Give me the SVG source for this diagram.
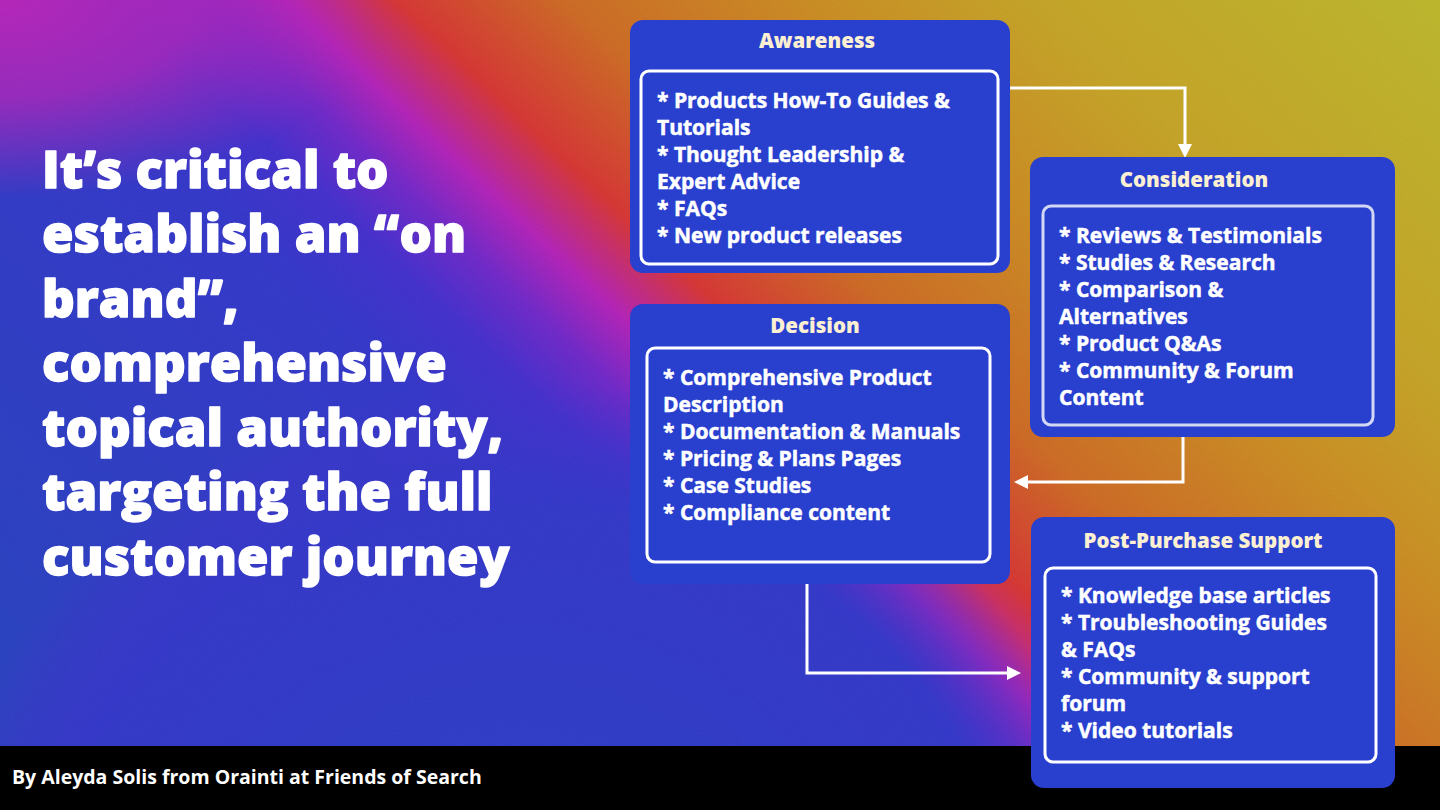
<svg xmlns="http://www.w3.org/2000/svg" width="1440" height="810" viewBox="0 0 1440 810">
  <defs>
    <linearGradient id="bg" gradientUnits="userSpaceOnUse" x1="-414" y1="438" x2="690" y2="-730">
      <stop offset="0" stop-color="#1c3cbc"/>
      <stop offset="0.375" stop-color="#2a2ec8"/>
      <stop offset="0.425" stop-color="#3a26cc"/>
      <stop offset="0.4625" stop-color="#6a1ec8"/>
      <stop offset="0.4975" stop-color="#b018b6"/>
      <stop offset="0.544" stop-color="#d62c2a"/>
      <stop offset="0.616" stop-color="#cc641a"/>
      <stop offset="0.719" stop-color="#ca8818"/>
      <stop offset="0.8125" stop-color="#c4a01c"/>
      <stop offset="1" stop-color="#bab622"/>
    </linearGradient>
    <radialGradient id="blueover" gradientUnits="userSpaceOnUse" cx="520" cy="1000" r="620">
      <stop offset="0" stop-color="#2038c4" stop-opacity="1"/>
      <stop offset="0.82" stop-color="#2a2ec8" stop-opacity="1"/>
      <stop offset="1" stop-color="#3a26cc" stop-opacity="0"/>
    </radialGradient>
    <radialGradient id="corner" gradientUnits="userSpaceOnUse" cx="0" cy="0" r="380" gradientTransform="scale(1,0.52)">
      <stop offset="0" stop-color="#b41ab8" stop-opacity="1"/>
      <stop offset="0.5" stop-color="#b41ab8" stop-opacity="0.75"/>
      <stop offset="1" stop-color="#b41ab8" stop-opacity="0"/>
    </radialGradient>
    <filter id="grain" x="0" y="0" width="100%" height="100%">
      <feTurbulence type="fractalNoise" baseFrequency="0.85" numOctaves="2" seed="4" result="n"/>
      <feColorMatrix in="n" type="matrix" values="0.33 0.33 0.33 0 0  0.33 0.33 0.33 0 0  0.33 0.33 0.33 0 0  0 0 0 0 0.08"/>
    </filter>
    <marker id="arrow" markerUnits="userSpaceOnUse" markerWidth="14" markerHeight="14" refX="4" refY="7" orient="auto">
      <path d="M0,0 L14,7 L0,14 z" fill="#ffffff"/>
    </marker>
    <style>
      .box { fill: #2940cf; }
      .inner { fill: none; stroke: #ffffff; stroke-width: 3; }
      .inner-soft { fill: none; stroke: #d2d8f4; stroke-width: 3; }
      .title { font-family: "Open Sans", "Liberation Sans", sans-serif; font-weight: 800; font-size: 20.5px; fill: #fdf0d2; text-anchor: middle; }
      .item { font-family: "Open Sans", "Liberation Sans", sans-serif; font-weight: 700; font-size: 21px; fill: #ffffff; stroke: #ffffff; stroke-width: 0.5px; }
      .head { font-family: "Open Sans", "Liberation Sans", sans-serif; font-weight: 800; font-size: 51px; fill: #ffffff; stroke: #ffffff; stroke-width: 1.4px; stroke-linejoin: round; }
      .foot { font-family: "Open Sans", "Liberation Sans", sans-serif; font-weight: 700; font-size: 19.5px; fill: #ffffff; }
      .conn { fill: none; stroke: #ffffff; stroke-width: 3; }
    </style>
  </defs>

  <rect x="0" y="0" width="1440" height="810" fill="url(#bg)"/>
  <rect x="0" y="0" width="1440" height="810" fill="url(#blueover)"/>
  <rect x="0" y="0" width="1440" height="810" fill="url(#corner)"/>
  <rect x="0" y="0" width="1440" height="810" filter="url(#grain)"/>

  <rect x="0" y="746" width="1440" height="64" fill="#000000"/>
  <text class="foot" x="12" y="784">By Aleyda Solis from Orainti at Friends of Search</text>

  <g id="headline">
    <text class="head" x="42" y="188">It’s critical to</text>
    <text class="head" x="42" y="252">establish an “on</text>
    <text class="head" x="42" y="317">brand”,</text>
    <text class="head" x="42" y="381">comprehensive</text>
    <text class="head" x="42" y="446">topical authority,</text>
    <text class="head" x="42" y="510">targeting the full</text>
    <text class="head" x="42" y="575">customer journey</text>
  </g>

  <g id="connectors">
    <path class="conn" d="M1010,88 H1185 V148" marker-end="url(#arrow)"/>
    <path class="conn" d="M1183,437 V482 H1024" marker-end="url(#arrow)"/>
    <path class="conn" d="M807,583 V673 H1011" marker-end="url(#arrow)"/>
  </g>

  <g id="awareness">
    <rect class="box" x="630" y="20" width="380" height="253" rx="13"/>
    <text class="title" x="817" y="48">Awareness</text>
    <rect class="inner" x="641" y="71" width="357" height="193" rx="8"/>
    <text class="item" x="657" y="108">* Products How-To Guides &amp;</text>
    <text class="item" x="657" y="135">Tutorials</text>
    <text class="item" x="657" y="162">* Thought Leadership &amp;</text>
    <text class="item" x="657" y="189">Expert Advice</text>
    <text class="item" x="657" y="216">* FAQs</text>
    <text class="item" x="657" y="243">* New product releases</text>
  </g>

  <g id="consideration">
    <rect class="box" x="1030" y="157" width="365" height="280" rx="13"/>
    <text class="title" x="1194" y="187">Consideration</text>
    <rect class="inner-soft" x="1043" y="206" width="330" height="219" rx="8"/>
    <text class="item" x="1059" y="243">* Reviews &amp; Testimonials</text>
    <text class="item" x="1059" y="270">* Studies &amp; Research</text>
    <text class="item" x="1059" y="297">* Comparison &amp;</text>
    <text class="item" x="1059" y="324">Alternatives</text>
    <text class="item" x="1059" y="351">* Product Q&amp;As</text>
    <text class="item" x="1059" y="378">* Community &amp; Forum</text>
    <text class="item" x="1059" y="405">Content</text>
  </g>

  <g id="decision">
    <rect class="box" x="630" y="304" width="380" height="280" rx="13"/>
    <text class="title" x="815" y="333">Decision</text>
    <rect class="inner" x="647" y="348" width="343" height="214" rx="8"/>
    <text class="item" x="663" y="385">* Comprehensive Product</text>
    <text class="item" x="663" y="412">Description</text>
    <text class="item" x="663" y="439">* Documentation &amp; Manuals</text>
    <text class="item" x="663" y="466">* Pricing &amp; Plans Pages</text>
    <text class="item" x="663" y="493">* Case Studies</text>
    <text class="item" x="663" y="520">* Compliance content</text>
  </g>

  <g id="post-purchase">
    <rect class="box" x="1031" y="517" width="364" height="271" rx="13"/>
    <text class="title" x="1203" y="548">Post-Purchase Support</text>
    <rect class="inner" x="1045" y="568" width="331" height="194" rx="8"/>
    <text class="item" x="1061" y="603">* Knowledge base articles</text>
    <text class="item" x="1061" y="630">* Troubleshooting Guides</text>
    <text class="item" x="1061" y="657">&amp; FAQs</text>
    <text class="item" x="1061" y="684">* Community &amp; support</text>
    <text class="item" x="1061" y="711">forum</text>
    <text class="item" x="1061" y="738">* Video tutorials</text>
  </g>
</svg>
